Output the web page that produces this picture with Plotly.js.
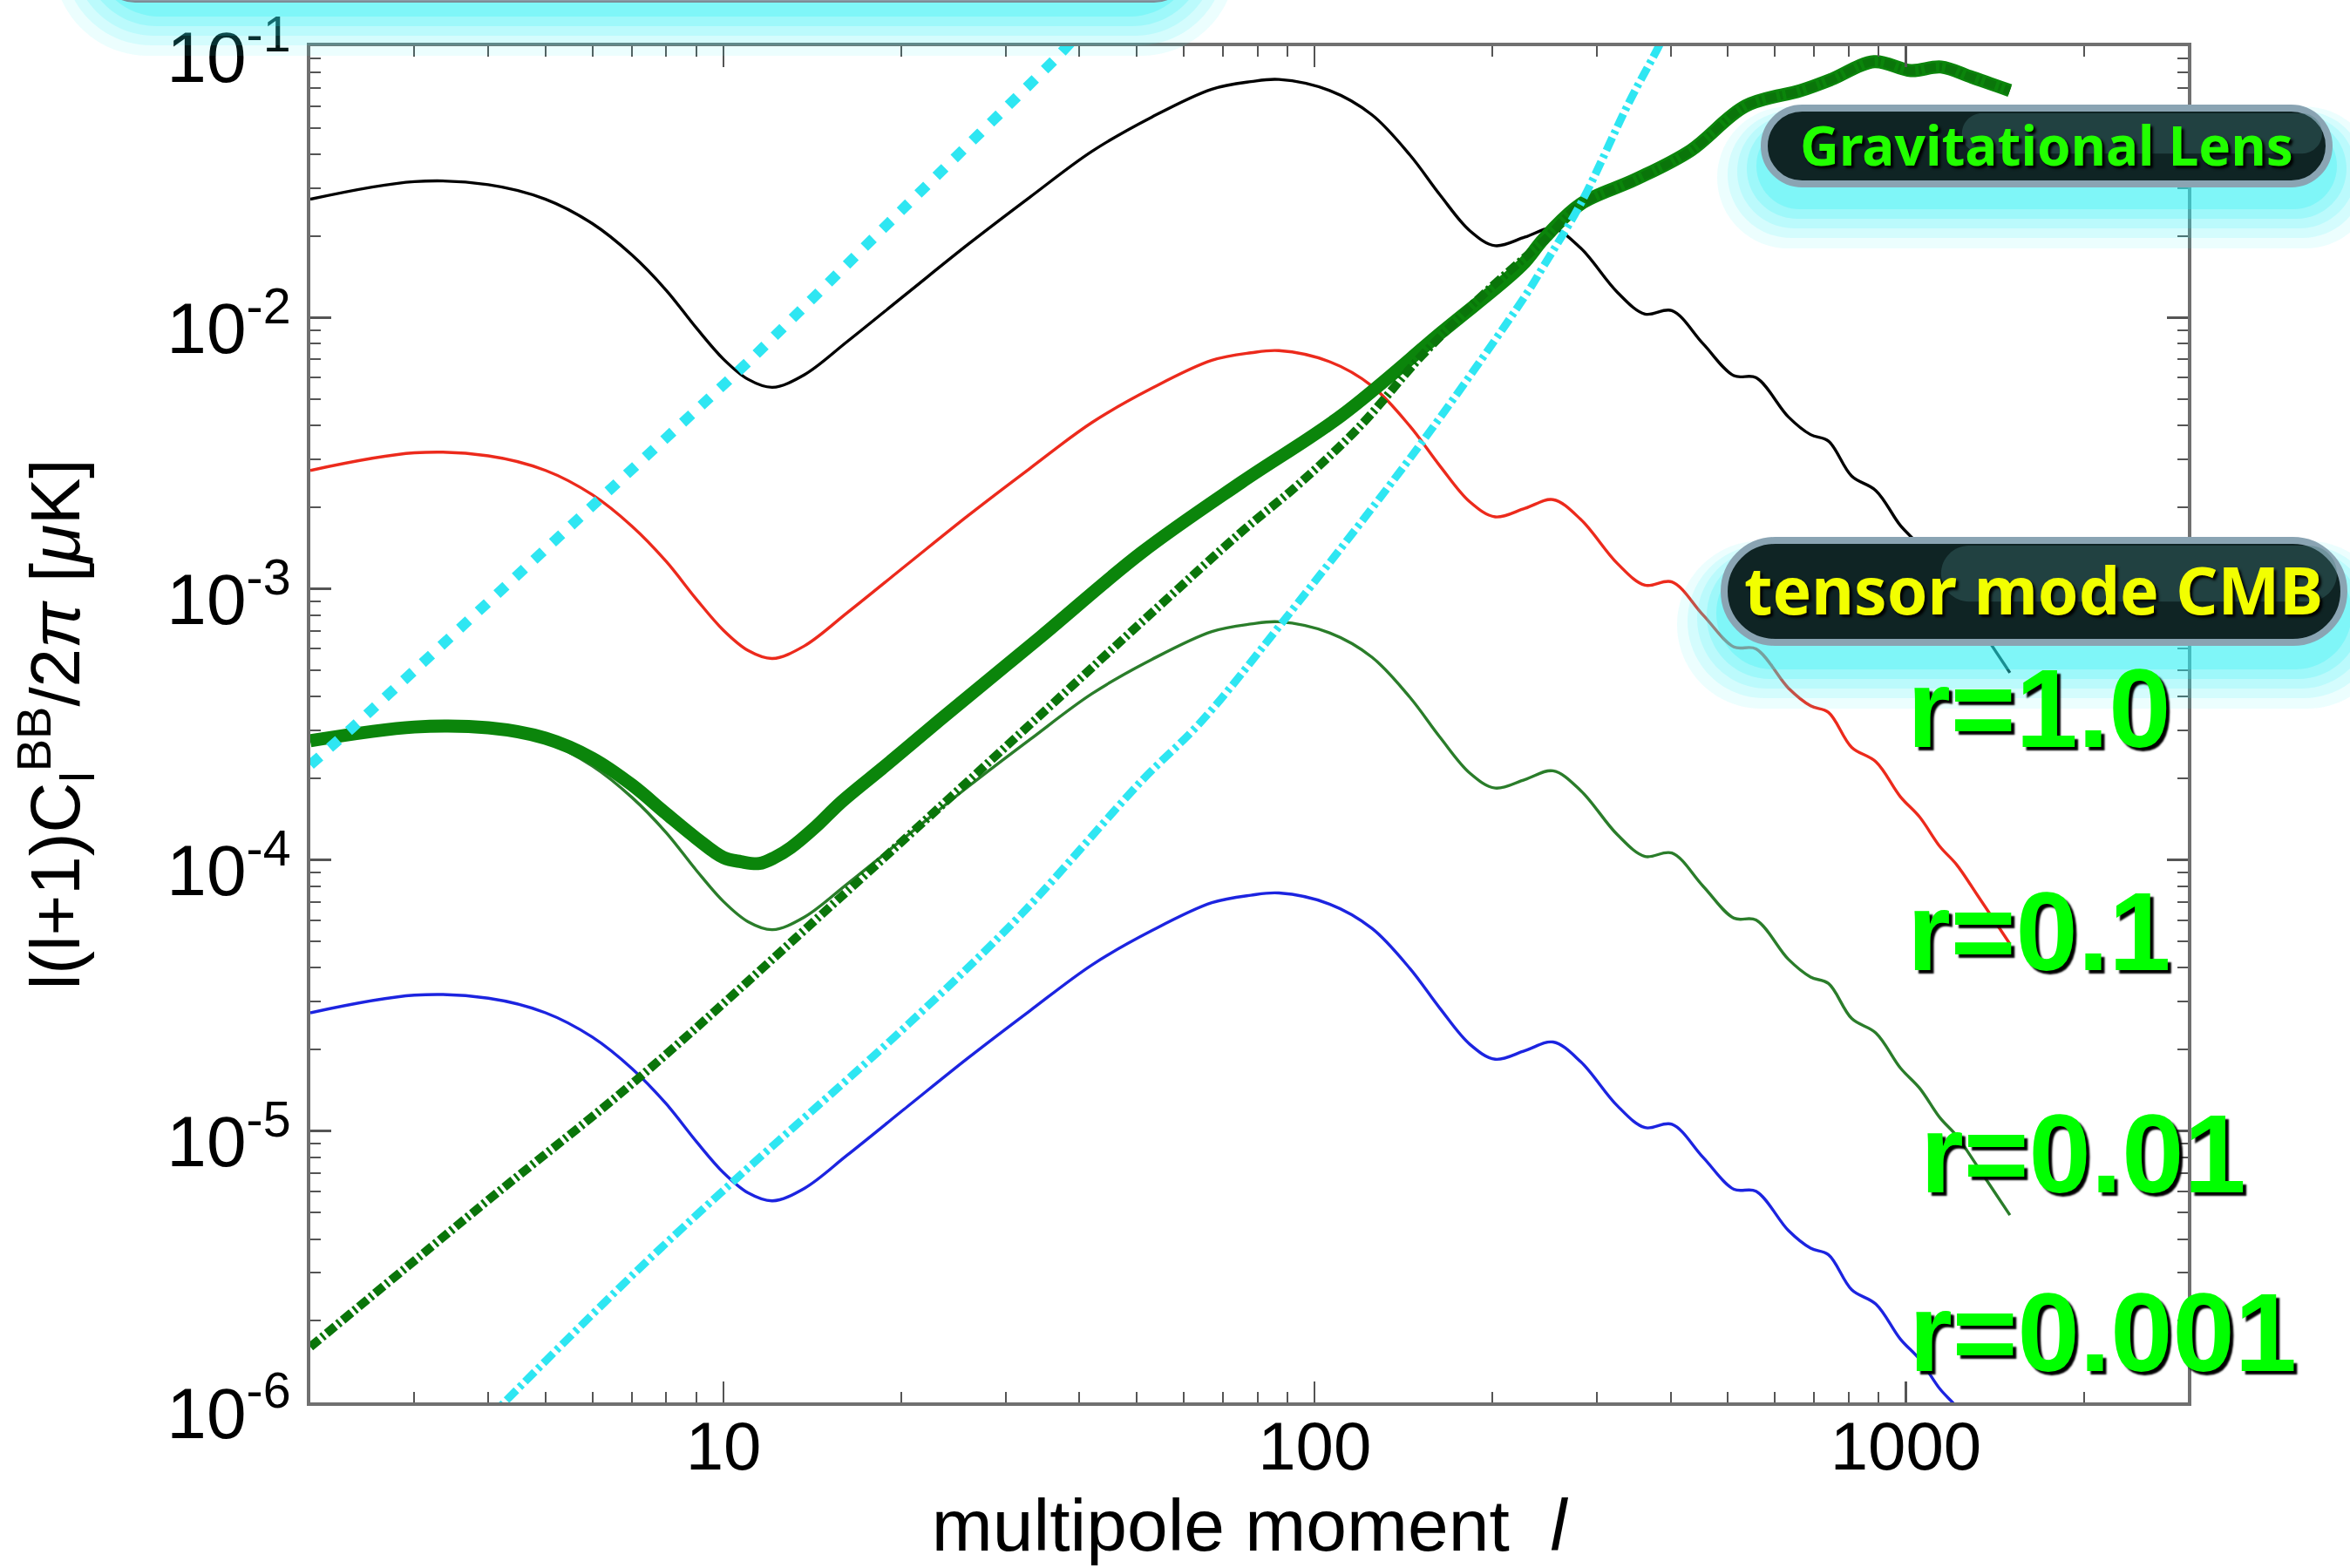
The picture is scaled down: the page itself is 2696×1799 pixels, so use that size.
<!DOCTYPE html>
<html><head><meta charset="utf-8">
<script src="https://cdn.plot.ly/plotly-3.0.1.min.js"></script>
<style>html,body{margin:0;padding:0;background:#fff;}#chart{width:2696px;height:1799px;}</style>
</head><body><div id="chart"></div>
<script>
// ---------- data ----------
const ellTensor = [2,3,4,5,6,7,8,9,10,11,12.1,13.7,16.2,20.5,26,33,42,53,67,78,87,106,125,145,163,183,202,227,253,282,325,362,402,454,512,558,633,690,740,810,890,979,1055,1142,1219,1317,1500];
const bbR1 = [0.0273,0.0317,0.0309,0.0273,0.0222,0.0170,0.0126,0.00914,0.00702,0.00592,0.00553,0.00615,0.00816,0.01234,0.0187,0.0278,0.0410,0.0548,0.0695,0.0741,0.0755,0.0687,0.0559,0.0397,0.0283,0.0209,0.0184,0.0198,0.0213,0.0180,0.0124,0.0103,0.0106,0.0080,0.0061,0.0060,0.0043,0.0037,0.0035,0.0026,0.0023,0.00171,0.00144,0.00112,0.00096,0.00075,0.00049];
const bbR01 = [0.00273,0.00317,0.00309,0.00273,0.00222,0.00170,0.00126,0.000914,0.000702,0.000592,0.000553,0.000615,0.000816,0.001234,0.00187,0.00278,0.00410,0.00548,0.00695,0.00741,0.00755,0.00687,0.00559,0.00397,0.00283,0.00209,0.00184,0.00198,0.00213,0.00180,0.00124,0.00103,0.00106,0.00080,0.00061,0.00060,0.00043,0.00037,0.00035,0.00026,0.00023,0.000171,0.000144,0.000112,0.000096,0.000075,0.000049];
const bbR001 = [2.73e-4,3.17e-4,3.09e-4,2.73e-4,2.22e-4,1.70e-4,1.26e-4,9.14e-5,7.02e-5,5.92e-5,5.53e-5,6.15e-5,8.16e-5,1.234e-4,1.87e-4,2.78e-4,4.10e-4,5.48e-4,6.95e-4,7.41e-4,7.55e-4,6.87e-4,5.59e-4,3.97e-4,2.83e-4,2.09e-4,1.84e-4,1.98e-4,2.13e-4,1.80e-4,1.24e-4,1.03e-4,1.06e-4,8.0e-5,6.1e-5,6.0e-5,4.3e-5,3.7e-5,3.5e-5,2.6e-5,2.3e-5,1.71e-5,1.44e-5,1.12e-5,9.6e-6,7.5e-6,4.9e-6];
const bbR0001 = [2.73e-5,3.17e-5,3.09e-5,2.73e-5,2.22e-5,1.70e-5,1.26e-5,9.14e-6,7.02e-6,5.92e-6,5.53e-6,6.15e-6,8.16e-6,1.234e-5,1.87e-5,2.78e-5,4.10e-5,5.48e-5,6.95e-5,7.41e-5,7.55e-5,6.87e-5,5.59e-5,3.97e-5,2.83e-5,2.09e-5,1.84e-5,1.98e-5,2.13e-5,1.80e-5,1.24e-5,1.03e-5,1.06e-5,8.0e-6,6.1e-6,6.0e-6,4.3e-6,3.7e-6,3.5e-6,2.6e-6,2.3e-6,1.71e-6,1.44e-6,1.12e-6,9.6e-7,7.5e-7,4.9e-7];

const ellTotal = [2,3,4,5,6,7,8,9,10,10.7,11.5,12.2,13,14.35,15.8,19,23.3,34.5,50.9,75.2,111,164,224,244,281.6,349,432.5,536,664,748,884,1020,1147,1294,1500];
const bbTotal = [2.75e-4,3.09e-4,3.07e-4,2.81e-4,2.37e-4,1.89e-4,1.48e-4,1.20e-4,1.02e-4,9.85e-5,9.7e-5,1.02e-4,1.11e-4,1.33e-4,1.63e-4,2.27e-4,3.30e-4,6.68e-4,1.356e-3,2.47e-3,4.35e-3,8.83e-3,1.556e-2,1.95e-2,2.62e-2,3.23e-2,4.13e-2,6.03e-2,6.87e-2,7.55e-2,8.78e-2,8.14e-2,8.39e-2,7.69e-2,6.87e-2];

const ellLens = [2,3.87,7.19,15.8,34.5,53.2,75.2,94.2,119.4,151.5,192.4,244,281.6,349,432.5,536,664,748,884,1020,1147,1294,1500];
const bbLens = [1.6e-6,5.25e-6,1.57e-5,7.3e-5,3.45e-4,8.2e-4,1.62e-3,2.44e-3,3.98e-3,7.2e-3,1.21e-2,1.92e-2,2.6e-2,3.22e-2,4.12e-2,6.02e-2,6.86e-2,7.54e-2,8.77e-2,8.13e-2,8.38e-2,7.68e-2,6.86e-2];

const ellNoiseA = [2,2.35,6.23,11.03,20.5,36.35,40];
const noiseA = [2.24e-4,3.06e-4,2.18e-3,6.89e-3,2.62e-2,8.95e-2,1.12e-1];

const ellNoiseB = [4,4.26,7.19,10.53,20.5,31.9,50.9,64.4,87.9,151.6,227.5,244,281.6,340.7,383.7,400];
const noiseB = [8.7e-7,1.0e-6,3.1e-6,6.7e-6,2.47e-5,6.3e-5,1.95e-4,3.25e-4,7.45e-4,3.45e-3,1.21e-2,1.55e-2,2.62e-2,6.25e-2,1.02e-1,1.25e-1];

const xTickVals = [10,100,1000];
const xTickText = ['10','100','1000'];
const xMinorVals = [3,4,5,6,7,8,9,20,30,40,50,60,70,80,90,200,300,400,500,600,700,800,900,2000];
const yTickVals = [1e-6,1e-5,1e-4,1e-3,1e-2,1e-1];
const yTickText = ['10<sup>-6</sup>','10<sup>-5</sup>','10<sup>-4</sup>','10<sup>-3</sup>','10<sup>-2</sup>','10<sup>-1</sup>'];
const yMinorVals = [];
[1e-6,1e-5,1e-4,1e-3,1e-2].forEach(d=>{[2,3,4,5,6,7,8,9].forEach(k=>yMinorVals.push(+(k*d).toPrecision(3)));});

const rLabels = ['r=1.0','r=0.1','r=0.01','r=0.001'];
const boxLabels = ['Gravitational Lens','tensor mode CMB'];

// ---------- layout geometry helpers (pixels -> paper) ----------
const W=2696,H=1799;
const M={l:356,r:186,t:53,b:190};
const PW=W-M.l-M.r, PH=H-M.t-M.b;
const px=p=>(p-M.l)/PW, py=p=>1-(p-M.t)/PH;
function pill(x0,y0,x1,y1,rad){
  const r=rad===undefined?(y1-y0)/2:rad, k=0.5523*r;
  const P=(x,y)=>px(x).toFixed(5)+','+py(y).toFixed(5);
  return 'M'+P(x0+r,y0)+' L'+P(x1-r,y0)+' C'+P(x1-r+k,y0)+' '+P(x1,y0+r-k)+' '+P(x1,y0+r)+
    ' L'+P(x1,y1-r)+' C'+P(x1,y1-r+k)+' '+P(x1-r+k,y1)+' '+P(x1-r,y1)+
    ' L'+P(x0+r,y1)+' C'+P(x0+r-k,y1)+' '+P(x0,y1-r+k)+' '+P(x0,y1-r)+
    ' L'+P(x0,y0+r)+' C'+P(x0,y0+r-k)+' '+P(x0+r-k,y0)+' '+P(x0+r,y0)+' Z';
}
function glow(x0,y0,x1,y1,shapes,dy){
  const steps=[[54,0.09],[42,0.12],[31,0.15],[20,0.2],[9,0.27]];
  steps.forEach(([g,o])=>{
    shapes.push({type:'path',xref:'paper',yref:'paper',layer:'above',
      path:pill(x0-g,y0-g*0.4+dy,x1+g,y1+g+dy,(y1-y0+g*1.4)/2),
      fillcolor:'rgba(45,240,245,'+o+')',line:{width:0}});
  });
}
function box(x0,y0,x1,y1,shapes){
  shapes.push({type:'path',xref:'paper',yref:'paper',layer:'above',path:pill(x0,y0,x1,y1),
    fillcolor:'#0f2424',line:{color:'#8aa4b3',width:8}});
  shapes.push({type:'path',xref:'paper',yref:'paper',layer:'above',path:pill(x0+(x1-x0)*0.35,y0+6,x1-8,y0+(y1-y0)*0.6),
    fillcolor:'rgba(70,120,120,0.35)',line:{width:0}});
}
const shapes=[];
// top banner (mostly off-canvas)
glow(115,-140,1364,2,shapes,8);
shapes.push({type:'path',xref:'paper',yref:'paper',layer:'above',path:pill(115,-140,1364,2,40),fillcolor:'#8d9ea9',line:{color:'#7d8c96',width:2}});
// Gravitational Lens
glow(2024,124,2672,211,shapes,20);
box(2024,124,2672,211,shapes);
// tensor mode CMB
glow(1978,620,2689,737,shapes,22);
box(1978,620,2689,737,shapes);

const greenFont={family:'Liberation Sans, Arial, sans-serif',size:128,color:'#00ff00',weight:700,shadow:'4px 4px 2px #000'};
const annotations=[
  {text:boxLabels[0],x:px(2348),y:py(166),xref:'paper',yref:'paper',showarrow:false,xanchor:'center',yanchor:'middle',
   font:{family:'Noto Sans, sans-serif',size:62,color:'#22ff00',weight:700,shadow:'3px 3px 3px #000'}},
  {text:boxLabels[1],x:px(2333),y:py(676),xref:'paper',yref:'paper',showarrow:false,xanchor:'center',yanchor:'middle',
   font:{family:'Noto Sans, sans-serif',size:75,color:'#f2ff00',weight:700,shadow:'3px 3px 3px #000'}},
  {text:rLabels[0],x:px(2186),y:py(812),xref:'paper',yref:'paper',showarrow:false,xanchor:'left',yanchor:'middle',font:greenFont},
  {text:rLabels[1],x:px(2186),y:py(1068),xref:'paper',yref:'paper',showarrow:false,xanchor:'left',yanchor:'middle',font:greenFont},
  {text:rLabels[2],x:px(2201),y:py(1323),xref:'paper',yref:'paper',showarrow:false,xanchor:'left',yanchor:'middle',font:greenFont},
  {text:rLabels[3],x:px(2188),y:py(1528),xref:'paper',yref:'paper',showarrow:false,xanchor:'left',yanchor:'middle',font:greenFont}
];

const thin=3.4, sm=1.0;
const traces=[
  {x:ellTensor,y:bbR1,name:'r=1.0',mode:'lines',line:{color:'#000000',width:thin,shape:'spline',smoothing:sm}},
  {x:ellTensor,y:bbR01,name:'r=0.1',mode:'lines',line:{color:'#ec2a1c',width:thin,shape:'spline',smoothing:sm}},
  {x:ellTensor,y:bbR001,name:'r=0.01',mode:'lines',line:{color:'#2a7d2a',width:thin,shape:'spline',smoothing:sm}},
  {x:ellTensor,y:bbR0001,name:'r=0.001',mode:'lines',line:{color:'#1c24e0',width:thin,shape:'spline',smoothing:sm}},
  {x:ellTotal,y:bbTotal,name:'lens + r=0.01',mode:'lines',line:{color:'#0b850b',width:15,shape:'spline',smoothing:sm}},
  {x:ellLens,y:bbLens,name:'lensing B-mode',mode:'lines',line:{color:'#0a750a',width:10,dash:'13px,4px,3px,4px',shape:'spline',smoothing:sm}},
  {x:ellNoiseA,y:noiseA,name:'noise A',mode:'lines',line:{color:'#2ee6f2',width:12,dash:'14px,15px',shape:'spline',smoothing:0.4}},
  {x:ellNoiseB,y:noiseB,name:'noise B',mode:'lines',line:{color:'#2ee6f2',width:9,dash:'16px,5px,4px,5px',shape:'spline',smoothing:sm}}
];

const axCol='#707070';
const layout={
  width:W,height:H,margin:M,paper_bgcolor:'#ffffff',plot_bgcolor:'#ffffff',showlegend:false,
  font:{family:'Liberation Sans, Arial, sans-serif',color:'#000'},
  xaxis:{type:'log',range:[Math.log10(2),Math.log10(3000)],showgrid:false,zeroline:false,
    showline:true,linecolor:axCol,linewidth:4,mirror:'ticks',ticks:'inside',ticklen:24,tickwidth:2.5,tickcolor:'#555',
    tickmode:'array',tickvals:xTickVals,ticktext:xTickText,tickfont:{size:78,color:'#000'},ticklabelstandoff:-21,ticklabeloverflow:'allow',
    minor:{tickmode:'array',tickvals:xMinorVals,ticks:'inside',ticklen:12,tickwidth:2,tickcolor:'#555',showgrid:false},
    title:{text:'multipole moment  <i>l</i>',font:{size:84,color:'#000'},standoff:18}},
  yaxis:{type:'log',range:[-6.0005,-0.9995],showgrid:false,zeroline:false,
    showline:true,linecolor:axCol,linewidth:4,mirror:'ticks',ticks:'inside',ticklen:24,tickwidth:2.5,tickcolor:'#555',
    tickmode:'array',tickvals:yTickVals,ticktext:yTickText,tickfont:{size:82,color:'#000'},ticklabelstandoff:2,ticklabelshift:12,ticklabeloverflow:'allow',
    minor:{tickmode:'array',tickvals:yMinorVals,ticks:'inside',ticklen:12,tickwidth:2,tickcolor:'#555',showgrid:false},
    title:{text:'l(l+1)C<sub>l</sub><sup>BB</sup>/2<i>π</i> [<i>μ</i>K]',font:{size:80,color:'#000'},standoff:74}},
  shapes:shapes,annotations:annotations
};
Plotly.newPlot('chart',traces,layout,{staticPlot:true,displayModeBar:false});
</script></body></html>
